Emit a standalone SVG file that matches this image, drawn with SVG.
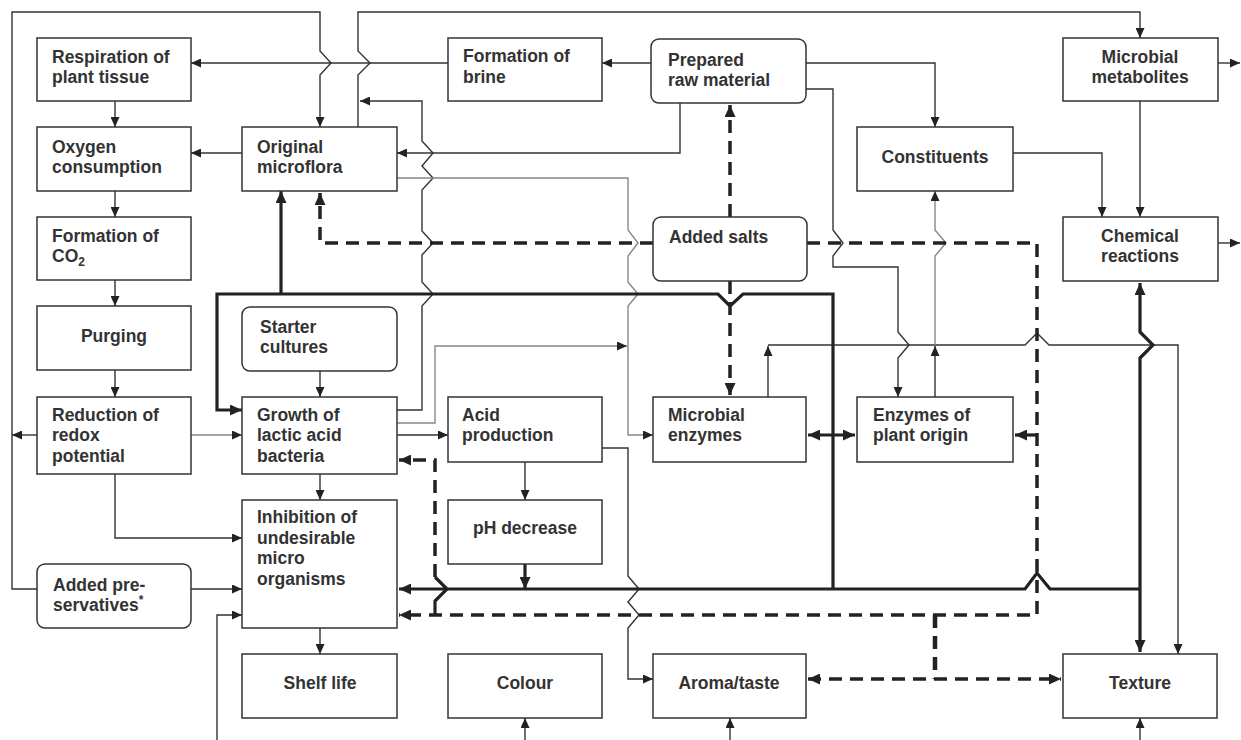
<svg xmlns="http://www.w3.org/2000/svg" width="1241" height="740" viewBox="0 0 1241 740">
<defs>
<marker id="a" markerUnits="userSpaceOnUse" markerWidth="10" markerHeight="9" refX="10" refY="4.5" orient="auto-start-reverse"><path d="M0,0 L10,4.5 L0,9 z" fill="#222"/></marker>
<marker id="at" markerUnits="userSpaceOnUse" markerWidth="12" markerHeight="11" refX="12" refY="5.5" orient="auto-start-reverse"><path d="M0,0 L12,5.5 L0,11 z" fill="#222"/></marker>
</defs>
<style>
.box{fill:#fff;stroke:#333;stroke-width:1.5}
.t{font-family:"Liberation Sans",Arial,sans-serif;font-weight:bold;font-size:17.5px;fill:#333}
.c{text-anchor:middle}
.ln{fill:none;stroke:#333;stroke-width:1.4}
.lg{fill:none;stroke:#888;stroke-width:1.4}
.th{fill:none;stroke:#222;stroke-width:3.2}
.ds{fill:none;stroke:#222;stroke-width:3.5;stroke-dasharray:13 8}
.dz{fill:none;stroke:#222;stroke-width:3.2}
</style>
<rect width="1241" height="740" fill="#fff"/>
<g id="connectors">
<!-- thin dark -->
<path class="ln" d="M37,589 H12 V12 H320 V51 L331,63 L320,75 V127" marker-end="url(#a)"/>
<path class="ln" d="M37,435 H12" marker-end="url(#a)"/>
<path class="ln" d="M358,127 V75 L370,63 L358,51 V12 H1140 V38" marker-end="url(#a)"/>
<path class="ln" d="M397,410 H422 V306 L433,294 L422,282 V255 L433,243 L422,231 V190 L433,178 L422,166 L433,153 L422,141 V101 H360" marker-end="url(#a)"/>
<path class="ln" d="M448,63 H191" marker-end="url(#a)"/>
<path class="ln" d="M651,63 H602" marker-end="url(#a)"/>
<path class="ln" d="M806,63 H935 V127" marker-end="url(#a)"/>
<path class="ln" d="M806,89 H833 V230 L843,243 L833,256 V267 H898 V332 L909,345 L898,358 V397" marker-end="url(#a)"/>
<path class="ln" d="M680,103 V153 H397" marker-end="url(#a)"/>
<path class="ln" d="M242,153 H191" marker-end="url(#a)"/>
<path class="ln" d="M115,101 V127" marker-end="url(#a)"/>
<path class="ln" d="M115,191 V217" marker-end="url(#a)"/>
<path class="ln" d="M115,280 V306" marker-end="url(#a)"/>
<path class="ln" d="M115,370 V397" marker-end="url(#a)"/>
<path class="ln" d="M115,474 V538 H242" marker-end="url(#a)"/>
<path class="lg" d="M191,435 H242" marker-end="url(#a)"/>
<path class="ln" d="M320,371 V397" marker-end="url(#a)"/>
<path class="ln" d="M320,474 V500" marker-end="url(#a)"/>
<path class="ln" d="M320,628 V654" marker-end="url(#a)"/>
<path class="ln" d="M191,589 H242" marker-end="url(#a)"/>
<path class="ln" d="M217,740 V615 H242" marker-end="url(#a)"/>
<path class="ln" d="M525,740 V718" marker-end="url(#a)"/>
<path class="ln" d="M730,740 V718" marker-end="url(#a)"/>
<path class="ln" d="M1140,740 V718" marker-end="url(#a)"/>
<path class="lg" d="M397,423 H435 V346 H627" marker-end="url(#a)"/>
<path class="lg" d="M397,178 H628 V230 L638,243 L628,256 V282 L638,294 L628,306 V435 H653" marker-end="url(#a)"/>
<path class="ln" d="M397,435 H448" marker-end="url(#a)"/>
<path class="ln" d="M525,462 V500" marker-end="url(#a)"/>
<path class="ln" d="M602,448 H628 V576 L639,589 L628,602 L639,615 L628,628 V679 H653" marker-end="url(#a)"/>
<path class="ln" d="M768,397 V346" marker-end="url(#a)"/>
<path class="ln" d="M768,345 H1025 L1037,333 L1049,345 H1178 V654" marker-end="url(#a)"/>
<path class="ln" d="M935,397 V346" marker-end="url(#a)"/>
<path class="lg" d="M935,345 V256 L946,243 L935,230 V191" marker-end="url(#a)"/>
<path class="ln" d="M1013,153 H1102 V217" marker-end="url(#a)"/>
<path class="ln" d="M1140,101 V217" marker-end="url(#a)"/>
<path class="ln" d="M1218,63 H1240" marker-end="url(#a)"/>
<path class="ln" d="M1218,243 H1240" marker-end="url(#a)"/>
<!-- thick -->
<path class="th" d="M1140,283 V332 L1153,345 L1140,358 V652" marker-start="url(#at)" marker-end="url(#at)"/>
<path class="th" d="M1140,589 H1050 L1037,573 L1025,589 H399" marker-end="url(#at)"/>
<path class="th" d="M833,589 V294 H743 L730,306 L718,294 H217 V410 H242" marker-end="url(#at)"/>
<path class="th" d="M281,294 V191" marker-end="url(#at)"/>
<path class="th" d="M525,564 V589" marker-end="url(#at)"/>
<path class="th" d="M808,435 H855" marker-start="url(#at)" marker-end="url(#at)"/>
<!-- dashed -->
<path class="ds" d="M653,243 H320 V193" marker-end="url(#at)"/>
<path class="ds" d="M730,217 V105" marker-end="url(#at)"/>
<path class="ds" d="M730,281 V395" marker-end="url(#at)"/>
<path class="ds" d="M807,243 H1037 V615 H399" marker-end="url(#at)"/>
<path class="th" d="M1037,435 H1015" marker-end="url(#at)"/>
<path class="ds" d="M935,615 V679" style="stroke-width:4.5"/>
<path class="ds" d="M808,679 H1061" marker-start="url(#at)" marker-end="url(#at)"/>
<path class="dz" d="M435,615 V601 L447,589 L435,577"/>
<path class="ds" d="M435,577 V460 H399" marker-end="url(#at)"/>
</g>
<g id="n-respiration"><rect class="box" x="37" y="38" width="154" height="63"/><text class="t" x="52" y="63">Respiration of</text><text class="t" x="52" y="83">plant tissue</text></g>
<g id="n-oxygen"><rect class="box" x="37" y="127" width="154" height="64"/><text class="t" x="52" y="153">Oxygen</text><text class="t" x="52" y="173">consumption</text></g>
<g id="n-co2"><rect class="box" x="37" y="217" width="154" height="63"/><text class="t" x="52" y="242">Formation of</text><text class="t" x="52" y="262">CO<tspan font-size="12" dy="4">2</tspan></text></g>
<g id="n-purging"><rect class="box" x="37" y="306" width="154" height="64"/><text class="t c" x="114" y="342">Purging</text></g>
<g id="n-redox"><rect class="box" x="37" y="397" width="154" height="77"/><text class="t" x="52" y="421">Reduction of</text><text class="t" x="52" y="441">redox</text><text class="t" x="52" y="462">potential</text></g>
<g id="n-preservatives"><rect class="box" x="37" y="564" width="154" height="64" rx="8"/><text class="t" x="53" y="591">Added pre-</text><text class="t" x="53" y="611">servatives<tspan font-size="12" dy="-7">*</tspan></text></g>
<g id="n-microflora"><rect class="box" x="242" y="127" width="155" height="64"/><text class="t" x="257" y="153">Original</text><text class="t" x="257" y="173">microflora</text></g>
<g id="n-starter"><rect class="box" x="242" y="307" width="155" height="64" rx="8"/><text class="t" x="260" y="333">Starter</text><text class="t" x="260" y="353">cultures</text></g>
<g id="n-growth"><rect class="box" x="242" y="397" width="155" height="77"/><text class="t" x="257" y="421">Growth of</text><text class="t" x="257" y="441">lactic acid</text><text class="t" x="257" y="462">bacteria</text></g>
<g id="n-inhibition"><rect class="box" x="242" y="500" width="155" height="128"/><text class="t" x="257" y="523">Inhibition of</text><text class="t" x="257" y="544">undesirable</text><text class="t" x="257" y="564">micro</text><text class="t" x="257" y="585">organisms</text></g>
<g id="n-shelf"><rect class="box" x="242" y="654" width="155" height="64"/><text class="t c" x="320" y="689">Shelf life</text></g>
<g id="n-brine"><rect class="box" x="448" y="38" width="154" height="63"/><text class="t" x="463" y="62">Formation of</text><text class="t" x="463" y="83">brine</text></g>
<g id="n-prepared"><rect class="box" x="651" y="39" width="155" height="64" rx="8"/><text class="t" x="668" y="66">Prepared</text><text class="t" x="668" y="86">raw material</text></g>
<g id="n-salts"><rect class="box" x="653" y="217" width="154" height="64" rx="8"/><text class="t" x="669" y="243">Added salts</text></g>
<g id="n-acid"><rect class="box" x="448" y="397" width="154" height="65"/><text class="t" x="462" y="421">Acid</text><text class="t" x="462" y="441">production</text></g>
<g id="n-ph"><rect class="box" x="448" y="500" width="154" height="64"/><text class="t c" x="525" y="534">pH decrease</text></g>
<g id="n-colour"><rect class="box" x="448" y="654" width="154" height="64"/><text class="t c" x="525" y="689">Colour</text></g>
<g id="n-menzymes"><rect class="box" x="653" y="397" width="153" height="65"/><text class="t" x="668" y="421">Microbial</text><text class="t" x="668" y="441">enzymes</text></g>
<g id="n-aroma"><rect class="box" x="653" y="654" width="153" height="64"/><text class="t c" x="729" y="689">Aroma/taste</text></g>
<g id="n-constituents"><rect class="box" x="857" y="127" width="156" height="64"/><text class="t c" x="935" y="163">Constituents</text></g>
<g id="n-penzymes"><rect class="box" x="857" y="397" width="156" height="65"/><text class="t" x="873" y="421">Enzymes of</text><text class="t" x="873" y="441">plant origin</text></g>
<g id="n-metabolites"><rect class="box" x="1063" y="38" width="155" height="63"/><text class="t c" x="1140" y="63">Microbial</text><text class="t c" x="1140" y="83">metabolites</text></g>
<g id="n-chemical"><rect class="box" x="1063" y="217" width="155" height="64"/><text class="t c" x="1140" y="242">Chemical</text><text class="t c" x="1140" y="262">reactions</text></g>
<g id="n-texture"><rect class="box" x="1063" y="654" width="154" height="64"/><text class="t c" x="1140" y="689">Texture</text></g>
</svg>
